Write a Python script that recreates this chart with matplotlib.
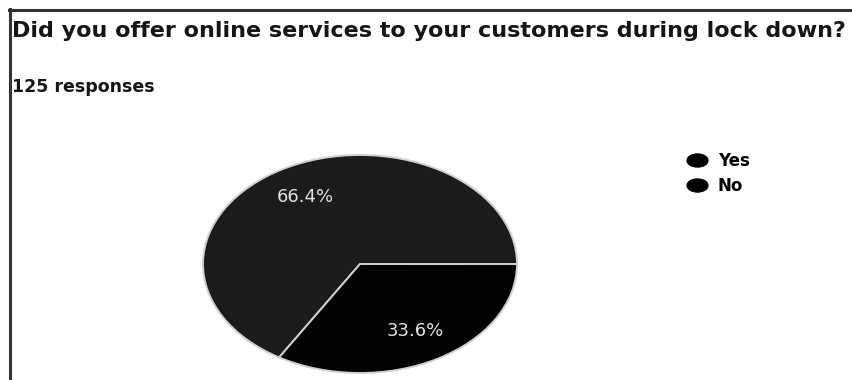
import matplotlib
matplotlib.use("Agg")
import matplotlib.pyplot as plt
from matplotlib.lines import Line2D
from matplotlib.path import Path
from matplotlib.transforms import Affine2D

# ---- data ----
title = "Did you offer online services to your customers during lock down?"
subtitle = "125 responses"
labels = ["Yes", "No"]
values = [66.4, 33.6]
colors = ["#1b1b1b", "#020202"]

W, H = 853, 380
fig = plt.figure(figsize=(W / 100, H / 100), dpi=100)
fig.patch.set_facecolor("white")

# pie axes (elliptical because aspect is auto)
ax = fig.add_axes([203 / W, 1 - 373 / H, 314 / W, 218 / H])
wedges, texts, autotexts = ax.pie(
    values, colors=colors, startangle=239, counterclock=False,
    autopct="%.1f%%", pctdistance=0.71, radius=1.0,
    wedgeprops=dict(edgecolor="#cfcfcf", linewidth=1.4),
    textprops=dict(color="#e2e2e2", fontsize=13, family="DejaVu Sans"),
)
ax.set_aspect("auto")
ax.set_xlim(-1.0, 1.0)
ax.set_ylim(-1.0, 1.0)
ax.axis("off")

# titles
fig.text(12 / W, 1 - 37 / H, title, fontsize=16.0, family="DejaVu Sans",
         fontweight="bold", color="#151515", ha="left", va="baseline")
fig.text(12 / W, 1 - 92.5 / H, subtitle, fontsize=12.5, family="DejaVu Sans",
         fontweight="bold", color="#151515", ha="left", va="baseline")

# legend with elliptical markers
ell = Path.unit_circle().transformed(Affine2D().scale(1.6, 1.0))
handles = [Line2D([], [], linestyle="none", marker=ell, markersize=15,
                  markerfacecolor="#000000", markeredgecolor="#000000")
           for _ in labels]
fig.legend(handles, labels, loc="upper left",
           bbox_to_anchor=(686 / W, 1 - 152 / H), frameon=False,
           prop=dict(family="DejaVu Sans", weight="bold", size=12),
           handlelength=1.3, handletextpad=0.62, labelspacing=0.42,
           borderpad=0, borderaxespad=0)

# frame lines (top and left)
fig.add_artist(Line2D([9 / W, 1.0], [1 - 9.5 / H, 1 - 9.5 / H],
                      color="#333333", linewidth=2.2,
                      transform=fig.transFigure))
fig.add_artist(Line2D([10 / W, 10 / W], [0, 1 - 8.5 / H],
                      color="#333333", linewidth=2.2,
                      transform=fig.transFigure))

fig.savefig("out.png", dpi=100, facecolor="white")
